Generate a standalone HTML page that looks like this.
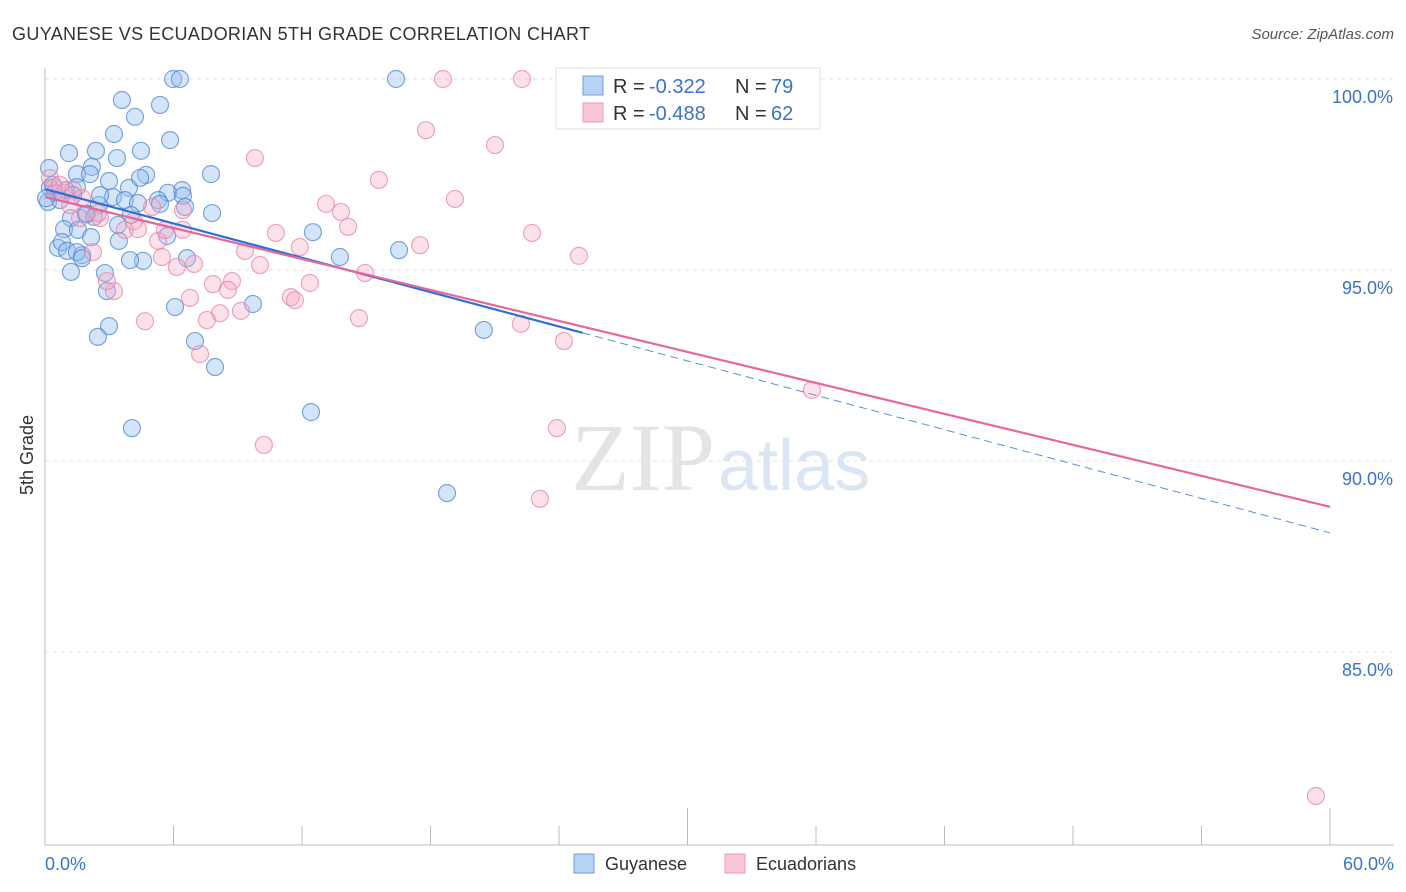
<!DOCTYPE html>
<html><head><meta charset="utf-8">
<style>
body{margin:0;background:#fff;font-family:"Liberation Sans",sans-serif;}
#wrap{position:relative;width:1406px;height:892px;overflow:hidden;}
</style></head>
<body>
<div id="wrap">
<svg id="chart" width="1406" height="892">
<text x="12" y="40" font-size="18" fill="#333" textLength="578">GUYANESE VS ECUADORIAN 5TH GRADE CORRELATION CHART</text>
<text x="1394" y="39" font-size="15" fill="#555" font-style="italic" text-anchor="end">Source: ZipAtlas.com</text>
<text x="33" y="455" font-size="18" fill="#333" text-anchor="middle" transform="rotate(-90 33 455)">5th Grade</text>
<g id="grid"></g>
<text x="715" y="490" font-size="96" fill="#e4e4e4" text-anchor="end" font-family="Liberation Serif">ZIP</text>
<text x="718" y="490" font-size="72" fill="#dbe6f5">atlas</text>
<g id="pts"></g>
<g id="lines"></g>
<g>
<rect x="556" y="68" width="264" height="61" fill="#fff" stroke="#ddd"/>
<rect x="583" y="76" width="20" height="19" fill="#b9d3f4" stroke="#6a9de0"/>
<rect x="583" y="103" width="20" height="19" fill="#f9c6d4" stroke="#ec9bb4"/>
<text x="613" y="93" font-size="20" fill="#333">R = <tspan x="649" fill="#3a73d0">-0.322</tspan><tspan x="735">N = </tspan><tspan x="771" fill="#3a73d0">79</tspan></text>
<text x="613" y="120" font-size="20" fill="#333">R = <tspan x="649" fill="#3a73d0">-0.488</tspan><tspan x="735">N = </tspan><tspan x="771" fill="#3a73d0">62</tspan></text>
</g>
<g>
<rect x="574" y="854" width="20" height="19" fill="#b9d3f4" stroke="#6a9de0"/>
<text x="605" y="870" font-size="18" fill="#333">Guyanese</text>
<rect x="725" y="854" width="20" height="19" fill="#f9c6d4" stroke="#ec9bb4"/>
<text x="756" y="870" font-size="18" fill="#333">Ecuadorians</text>
</g>
</svg>
</div>
<script>
const yTicks=[100,95,90,85];
const yTickLabels=["100.0%","95.0%","90.0%","85.0%"];
const xTickLabels=["0.0%","60.0%"];
const blueX=[5.98,6.30,16.39,3.59,5.37,4.20,3.22,5.84,1.12,2.38,4.48,3.36,0.19,2.19,1.49,2.10,4.72,7.75,2.99,0.23,1.49,3.92,6.40,5.74,6.44,0.47,0.98,3.17,3.73,4.34,5.28,2.52,5.37,6.54,7.80,1.96,1.21,4.01,2.29,0.89,12.51,1.54,2.15,3.45,5.70,0.61,0.79,1.03,1.73,1.49,4.58,6.63,13.77,16.53,1.21,2.80,2.89,6.07,9.71,2.99,2.47,7.00,7.94,20.49,12.42,4.06,18.77,0.14,0.37,0.70,1.31,2.57,4.44,3.41,1.91,3.97,1.73,0.05];
const blueY=[100,100,100,99.45,99.32,99.01,98.56,98.40,98.06,98.12,98.12,97.93,97.67,97.70,97.51,97.51,97.49,97.51,97.33,97.15,97.17,97.15,97.09,97.02,96.94,97.02,97.09,96.91,96.83,96.75,96.83,96.70,96.73,96.65,96.49,96.47,96.36,96.44,96.39,96.07,95.99,96.05,95.86,95.76,95.89,95.58,95.73,95.50,95.39,95.47,95.24,95.31,95.34,95.52,94.95,94.92,94.45,94.03,94.11,93.53,93.25,93.14,92.46,93.43,91.28,90.86,89.16,96.78,97.23,96.83,96.96,96.96,97.41,96.18,96.47,95.26,95.31,96.88];
const pinkX=[18.58,22.27,17.79,21.01,9.80,15.59,19.14,13.12,13.82,14.15,22.74,10.78,11.90,17.51,24.93,9.34,10.04,6.16,6.96,14.94,12.37,7.84,8.73,8.54,6.77,11.48,11.67,1.73,0.42,0.89,1.31,0.23,1.63,2.57,3.73,4.34,5.28,5.60,6.44,2.24,5.46,5.00,4.15,8.17,7.56,9.15,14.66,22.22,24.23,7.24,4.67,3.22,2.89,35.81,23.90,10.22,23.11,59.34,0.70,2.47,1.17,6.44];
const pinkY=[100,100,98.66,98.27,97.93,97.36,96.86,96.73,96.52,96.13,95.97,95.97,95.60,95.65,95.37,95.50,95.13,95.08,95.16,94.92,94.66,94.63,94.71,94.48,94.27,94.29,94.21,96.88,97.17,97.02,97.09,97.41,96.36,96.36,96.05,96.07,95.76,96.05,96.57,95.47,95.34,96.65,96.28,93.87,93.69,93.93,93.74,93.59,93.14,92.80,93.66,94.45,94.71,91.86,90.86,90.42,89.01,81.23,97.23,96.49,96.70,96.05];
const blueTrend=[97.12,88.12];
const pinkTrend=[96.91,88.80];
const blueSolidEnd=25.1;

const NS="http://www.w3.org/2000/svg";
const X0=45,X1=1330,Y100=79,PXPER=38.2;
function sx(v){return X0+(v/60)*(X1-X0);}
function sy(v){return Y100+(100-v)*PXPER;}
function mk(t,a,p){const e=document.createElementNS(NS,t);for(const k in a)e.setAttribute(k,a[k]);p.appendChild(e);return e;}
const grid=document.getElementById('grid');
yTicks.forEach((t,i)=>{
  const l=mk('line',{x1:X0,x2:1394,y1:sy(t),y2:sy(t),stroke:'#e2e2e2','stroke-dasharray':'4,4'},grid);
  
  
  const tx=mk('text',{x:1393,y:sy(t)+24,'font-size':18,fill:'#3a73d0','text-anchor':'end'},grid);
  tx.textContent=yTickLabels[i];
  
  
});
let ax=mk('line',{x1:X0,x2:X0,y1:68,y2:845,stroke:'#bbb'},grid);


ax=mk('line',{x1:X0,x2:1394,y1:845,y2:845,stroke:'#bbb'},grid);


for(let i=0;i<=10;i++){
  const x=sx(i*6);
  const tk=mk('line',{x1:x,x2:x,y1:(i==5||i==10)?808:826,y2:845,stroke:'#bbb'},grid);
  
  
}
[[0,'start',45],[60,'end',1394]].forEach((d,i)=>{
  const tx=mk('text',{x:d[2],y:870,'font-size':18,fill:'#3a73d0','text-anchor':d[1]},grid);
  tx.textContent=xTickLabels[i];
  
  
});
const pts=document.getElementById('pts');
blueX.forEach((x,i)=>{
  const c=mk('circle',{cx:sx(x),cy:sy(blueY[i]),r:8.5,fill:'rgba(150,190,240,0.4)',stroke:'rgba(70,130,215,0.7)','stroke-width':1.2},pts);
  
  
});
pinkX.forEach((x,i)=>{
  const c=mk('circle',{cx:sx(x),cy:sy(pinkY[i]),r:8.5,fill:'rgba(245,170,195,0.35)',stroke:'rgba(230,130,165,0.7)','stroke-width':1.2},pts);
  
  
});
const lines=document.getElementById('lines');
function ty(tr,x){return tr[0]+(tr[1]-tr[0])*x/60;}
let ln=mk('line',{x1:sx(0),y1:sy(ty(blueTrend,0)),x2:sx(blueSolidEnd),y2:sy(ty(blueTrend,blueSolidEnd)),stroke:'#2f6fd6','stroke-width':2.2},lines);


ln=mk('line',{x1:sx(blueSolidEnd),y1:sy(ty(blueTrend,blueSolidEnd)),x2:sx(60),y2:sy(ty(blueTrend,60)),stroke:'#5a8fd8','stroke-width':1,'stroke-dasharray':'8,5'},lines);


ln=mk('line',{x1:sx(0),y1:sy(ty(pinkTrend,0)),x2:sx(60),y2:sy(ty(pinkTrend,60)),stroke:'#e8679a','stroke-width':2.2},lines);


</script>
</body></html>
